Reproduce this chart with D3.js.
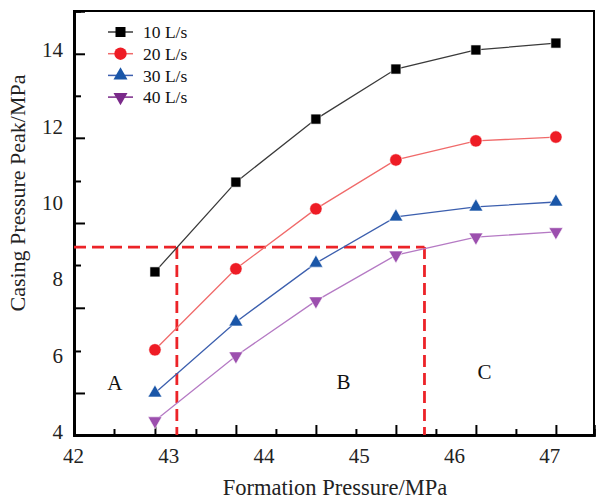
<!DOCTYPE html>
<html><head><meta charset="utf-8">
<script src="https://cdn.jsdelivr.net/npm/d3@7"></script>
<style>body{margin:0;background:#fff}svg{display:block}text{font-family:"Liberation Serif","Times New Roman",serif}</style>
</head><body><div id="chart"></div>
<script>
// ---- data ----
const formationPressure = [42.86, 43.71, 44.55, 45.39, 46.23, 47.07];
const seriesNames = ["10 L/s", "20 L/s", "30 L/s", "40 L/s"];
const peak10 = [8.19, 10.54, 12.19, 13.50, 14.00, 14.18];
const peak20 = [6.15, 8.27, 9.84, 11.12, 11.62, 11.72];
const peak30 = [5.02, 6.88, 8.42, 9.63, 9.89, 10.02];
const peak40 = [4.29, 5.99, 7.43, 8.63, 9.10, 9.24];
const xTickLabels = [42, 43, 44, 45, 46, 47];
const yTickLabels = [4, 6, 8, 10, 12, 14];
const xMinorTicks = [42.43, 43.29, 44.13, 44.97, 45.81, 46.65];
const yMajorTicks = [5.02, 7.25, 9.47, 11.70, 13.90];
const yMinorTicks = [6.12, 8.37, 10.57, 12.80];
const thresholdPeak = 8.84;
const thresholdPressures = [43.09, 45.69];
const zoneLabels = [{t:"A", x:42.44, y:5.28}, {t:"B", x:44.84, y:5.31}, {t:"C", x:46.32, y:5.57}];

const W = 596, H = 502;
const L = 74, R = 594, T = 11, B = 435;
const svg = d3.select("#chart").append("svg").attr("width", W).attr("height", H);

const x = d3.scaleLinear().domain([42.01, 47.47]).range([L, R]);
const y = d3.scaleLinear().domain([3.92, 15.02]).range([B, T]);

const styles = [
  {line:"#3a3a3a", fill:"#000000", sym:d3.symbolSquare, size:100, rot:0},
  {line:"#f06a6a", fill:"#ee1c25", sym:d3.symbolCircle, size:120, rot:0},
  {line:"#3c5fae", fill:"#1a56a8", sym:d3.symbolTriangle, size:85, rot:0},
  {line:"#b57ac4", fill:"#9c4fae", sym:d3.symbolTriangle, size:85, rot:180}
];
const allSeries = [peak10, peak20, peak30, peak40];

// frame
svg.append("rect").attr("x", L).attr("y", T).attr("width", R - L).attr("height", B - T)
  .attr("fill", "none").attr("stroke", "#000").attr("stroke-width", 2);

// axes ticks
const gx = svg.append("g").attr("transform", `translate(0,${B})`);
gx.call(d3.axisBottom(x).tickValues(formationPressure).tickSize(-10).tickFormat(""));
const gxm = svg.append("g").attr("transform", `translate(0,${B})`);
gxm.call(d3.axisBottom(x).tickValues(xMinorTicks).tickSize(-6).tickFormat(""));
const gxl = svg.append("g").attr("transform", `translate(0,${B})`);
gxl.call(d3.axisBottom(x).tickValues(xTickLabels).tickSize(0).tickPadding(13).tickFormat(d3.format("d")));

const gy = svg.append("g").attr("transform", `translate(${L},0)`);
gy.call(d3.axisLeft(y).tickValues(yMajorTicks).tickSize(-11).tickFormat(""));
const gym = svg.append("g").attr("transform", `translate(${L},0)`);
gym.call(d3.axisLeft(y).tickValues(yMinorTicks).tickSize(-7).tickFormat(""));
const gyl = svg.append("g").attr("transform", `translate(${L},0)`);
gyl.call(d3.axisLeft(y).tickValues(yTickLabels).tickSize(0).tickPadding(11).tickFormat(d3.format("d")));

[gx, gxm, gxl, gy, gym, gyl].forEach(g => {
  g.select(".domain").attr("stroke", "#000").attr("stroke-width", 2.5);
  g.selectAll(".tick line").attr("stroke", "#000").attr("stroke-width", 2);
  g.selectAll("text").attr("font-size", 21).attr("fill", "#222").attr("font-family", "Liberation Serif, serif");
});

// dashed threshold lines
const dash = svg.append("g").attr("stroke", "#ec2328").attr("stroke-width", 2.8)
  .attr("stroke-dasharray", "12,6").attr("fill", "none");
dash.append("line").attr("x1", L).attr("x2", x(thresholdPressures[1]))
  .attr("y1", y(thresholdPeak)).attr("y2", y(thresholdPeak));
thresholdPressures.forEach(p => {
  dash.append("line").attr("x1", x(p)).attr("x2", x(p))
    .attr("y1", y(thresholdPeak)).attr("y2", B);
});

// series
const line = d3.line().x((d, i) => x(formationPressure[i])).y(d => y(d));
allSeries.forEach((s, k) => {
  const st = styles[k];
  svg.append("path").datum(s).attr("d", line).attr("fill", "none")
    .attr("stroke", st.line).attr("stroke-width", 1.3);
  svg.append("g").selectAll("path").data(s).join("path")
    .attr("d", d3.symbol().type(st.sym).size(st.size))
    .attr("transform", (d, i) => `translate(${x(formationPressure[i])},${y(d)}) rotate(${st.rot})`)
    .attr("fill", st.fill).attr("stroke", "#fff").attr("stroke-width", 0.6);
});

// zone labels
svg.append("g").selectAll("text").data(zoneLabels).join("text")
  .attr("x", d => x(d.x)).attr("y", d => y(d.y)).attr("dy", "0.35em")
  .attr("text-anchor", "middle").attr("font-size", 21).attr("fill", "#111").text(d => d.t);

// legend
const leg = svg.append("g").attr("transform", "translate(108,32)");
seriesNames.forEach((n, k) => {
  const st = styles[k];
  const g = leg.append("g").attr("transform", `translate(0,${k * 21.7})`);
  g.append("line").attr("x1", 0).attr("x2", 25).attr("stroke", k === 3 ? "#7a2a8a" : st.line).attr("stroke-width", 1.5);
  g.append("path").attr("d", d3.symbol().type(st.sym).size(st.size))
    .attr("transform", `translate(12.5,0) rotate(${st.rot})`).attr("fill", k === 3 ? "#7a2a8a" : st.fill);
  g.append("text").attr("x", 35).attr("dy", "0.35em").attr("font-size", 17.5).attr("fill", "#111").text(n);
});

// axis titles
svg.append("text").attr("x", 335).attr("y", 495).attr("text-anchor", "middle")
  .attr("font-size", 22.5).attr("fill", "#222").text("Formation Pressure/MPa");
svg.append("text").attr("transform", `translate(25,193) rotate(-90)`)
  .attr("text-anchor", "middle").attr("font-size", 22).attr("fill", "#222").text("Casing Pressure Peak/MPa");
</script></body></html>
